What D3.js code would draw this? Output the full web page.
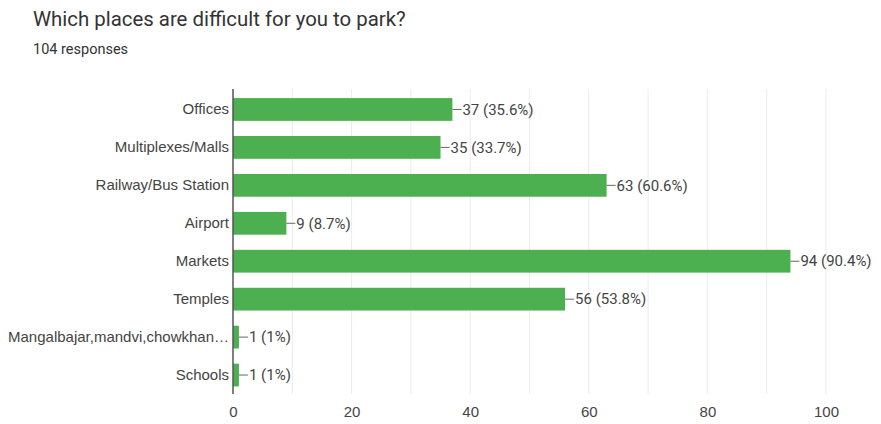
<!DOCTYPE html>
<html lang="en">
<head>
    <meta charset="UTF-8">
    <title>Which places are difficult for you to park?</title>
    <style>
        body {
            margin: 0;
            padding: 0;
            background: #ffffff;
            font-family: Roboto, Arial, sans-serif;
            overflow: hidden;
        }
        .tick text { fill: #444; }
    </style>
    <script src="https://d3js.org/d3.v7.min.js"></script>
</head>
<body>
    <div id="chart"></div>

    <script>
        // Survey data
        const categories = ["Offices", "Multiplexes/Malls", "Railway/Bus Station", "Airport",
            "Markets", "Temples", "Mangalbajar,mandvi,chowkhan\u2026", "Schools"];
        const counts = [37, 35, 63, 9, 94, 56, 1, 1];
        const percents = ["35.6%", "33.7%", "60.6%", "8.7%", "90.4%", "53.8%", "1%", "1%"];
        const xTicks = [0, 20, 40, 60, 80, 100];
        const gridValues = [10, 20, 30, 40, 50, 60, 70, 80, 90, 100];
        const totalResponses = 104;

        const rows = categories.map((c, i) => ({ name: c, value: counts[i], pct: percents[i] }));

        const width = 881;
        const height = 424;
        const margin = { top: 90.5, right: 55, bottom: 30, left: 233 };

        const svg = d3.select("#chart")
            .append("svg")
            .attr("width", width)
            .attr("height", height);

        // Title block
        svg.append("text")
            .attr("x", 33)
            .attr("y", 26)
            .style("font-size", "20.4px")
            .style("fill", "#333")
            .text("Which places are difficult for you to park?");

        svg.append("text")
            .attr("x", 33)
            .attr("y", 54)
            .style("font-size", "14.5px")
            .style("fill", "#333")
            .text(totalResponses + " responses");

        const x = d3.scaleLinear()
            .domain([0, 100])
            .range([margin.left, width - margin.right]);

        const y = d3.scaleBand()
            .domain(categories)
            .range([margin.top, height - margin.bottom])
            .paddingInner(0.4)
            .paddingOuter(0.2);

        // Gridlines
        svg.append("g")
            .selectAll("line")
            .data(gridValues)
            .join("line")
            .attr("x1", d => x(d))
            .attr("x2", d => x(d))
            .attr("y1", margin.top - 1.5)
            .attr("y2", height - margin.bottom)
            .attr("stroke", "#ececec")
            .attr("stroke-width", 1);

        // Bars
        svg.append("g")
            .selectAll("rect")
            .data(rows)
            .join("rect")
            .attr("x", x(0))
            .attr("y", d => y(d.name))
            .attr("width", d => x(d.value) - x(0))
            .attr("height", y.bandwidth())
            .attr("fill", "#4caf50");

        // Value labels with leader lines
        const labels = svg.append("g")
            .selectAll("g")
            .data(rows)
            .join("g")
            .attr("transform", d => `translate(${x(d.value)},${y(d.name) + y.bandwidth() / 2})`);

        labels.append("line")
            .attr("x1", 0)
            .attr("x2", 9)
            .attr("stroke", "#666")
            .attr("stroke-width", 1);

        labels.append("text")
            .attr("x", 10)
            .attr("dy", "0.35em")
            .style("font-size", "15px")
            .style("fill", "#444")
            .text(d => `${d.value} (${d.pct})`);

        // Category axis
        const yAxis = svg.append("g")
            .attr("transform", `translate(${x(0)},0)`)
            .call(d3.axisLeft(y).tickSize(0).tickPadding(4));
        yAxis.select(".domain").remove();
        yAxis.selectAll("text").style("font-size", "15px");

        svg.append("line")
            .attr("x1", x(0))
            .attr("x2", x(0))
            .attr("y1", margin.top - 1.5)
            .attr("y2", height - margin.bottom)
            .attr("stroke", "#555")
            .attr("stroke-width", 1.5);

        // Value axis
        const xAxis = svg.append("g")
            .attr("transform", `translate(0,${height - margin.bottom})`)
            .call(d3.axisBottom(x).tickValues(xTicks).tickSize(0).tickPadding(12));
        xAxis.select(".domain").remove();
        xAxis.selectAll("text").style("font-size", "15px");
    </script>
</body>
</html>
